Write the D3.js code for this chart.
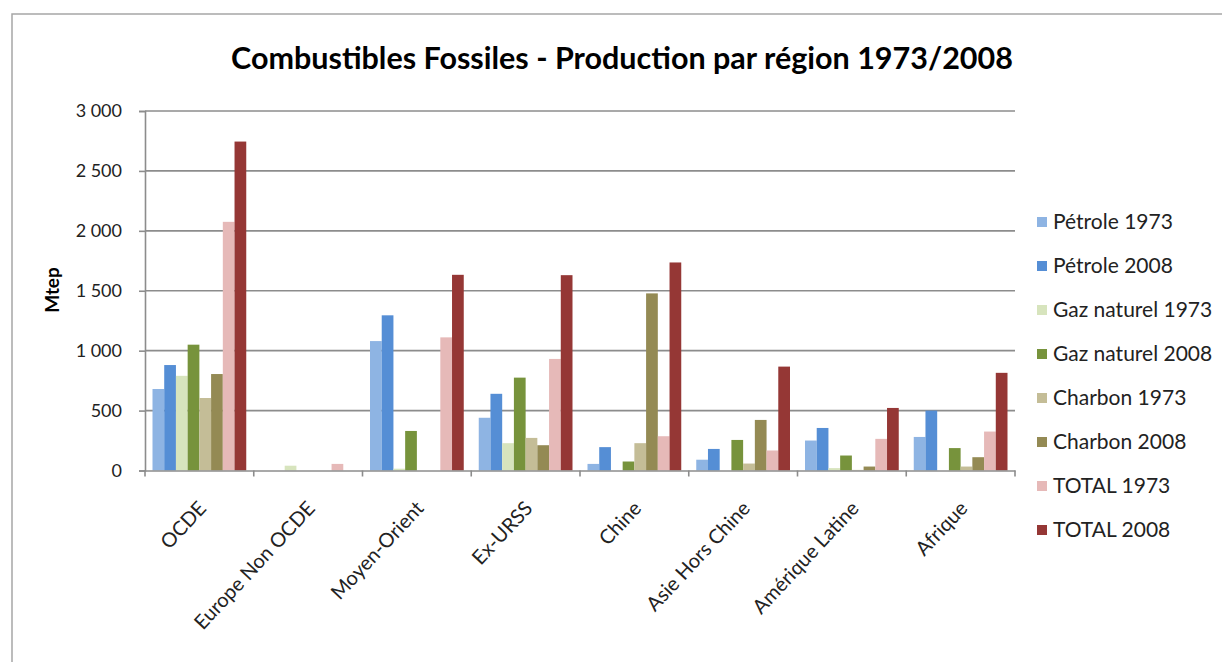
<!DOCTYPE html>
<html><head><meta charset="utf-8">
<script src="https://cdn.jsdelivr.net/npm/d3@7"></script>
<style>body{margin:0;background:#fff}svg{display:block}</style>
</head><body>
<script>
const categories = ["OCDE","Europe Non OCDE","Moyen-Orient","Ex-URSS","Chine","Asie Hors Chine","Amérique Latine","Afrique"];
const seriesNames = ["Pétrole 1973","Pétrole 2008","Gaz naturel 1973","Gaz naturel 2008","Charbon 1973","Charbon 2008","TOTAL 1973","TOTAL 2008"];
const petrole1973 = [680, 0, 1080, 440, 55, 90, 250, 280];
const petrole2008 = [880, 0, 1295, 640, 195, 180, 355, 500];
const gaz1973     = [790, 40, 15, 228, 0, 0, 20, 0];
const gaz2008     = [1050, 0, 330, 775, 75, 255, 125, 187];
const charbon1973 = [605, 0, 0, 272, 228, 58, 5, 33];
const charbon2008 = [805, 0, 0, 211, 1478, 422, 33, 111];
const total1973   = [2075, 55, 1111, 931, 286, 167, 264, 325];
const total2008   = [2745, 0, 1633, 1630, 1736, 867, 522, 815];
const seriesValues = [petrole1973, petrole2008, gaz1973, gaz2008, charbon1973, charbon2008, total1973, total2008];
const colors = ["#8EB4E3","#558ED5","#D7E4BD","#77933C","#C4BD97","#948A54","#E6B9B8","#953735"];
const yTicks = [0,500,1000,1500,2000,2500,3000];

const FONT = "Lato, 'Liberation Sans', sans-serif";
const W = 1222, H = 662;
const svg = d3.select("body").append("svg").attr("width", W).attr("height", H);
svg.append("rect").attr("x",12).attr("y",14).attr("width",W).attr("height",H)
  .attr("fill","#fff").attr("stroke","#a6a6a6").attr("stroke-width",1.5);

const mLeft = 145, mRight = 1015, mTop = 111, mBottom = 470.5;
const x0 = d3.scaleBand().domain(categories).range([mLeft, mRight]).paddingInner(0).paddingOuter(0);
const x1 = d3.scaleBand().domain(seriesNames).range([7.5, x0.bandwidth()-7.5]).padding(0);
const y = d3.scaleLinear().domain([0,3000]).range([mBottom, mTop]);

// gridlines
svg.append("g").selectAll("line").data(yTicks.slice(1)).join("line")
  .attr("x1", mLeft).attr("x2", mRight).attr("y1", d=>y(d)).attr("y2", d=>y(d))
  .attr("stroke","#8c8c8c").attr("stroke-width",1.6);

// bars
const groups = svg.append("g").selectAll("g").data(categories).join("g")
  .attr("transform", c => `translate(${x0(c)},0)`);
groups.selectAll("rect").data((c,i) => seriesNames.map((s,j)=>({s, v: seriesValues[j][i], col: colors[j]})))
  .join("rect")
  .attr("x", d => x1(d.s)).attr("width", x1.bandwidth())
  .attr("y", d => y(d.v)).attr("height", d => mBottom - y(d.v))
  .attr("fill", d => d.col);

// y axis
const yAxis = svg.append("g").attr("transform",`translate(${mLeft},0)`)
  .call(d3.axisLeft(y).tickValues(yTicks).tickSize(6).tickPadding(17).tickFormat(v => v>=1000 ? String(v).slice(0,-3)+" "+String(v).slice(-3) : String(v)));
yAxis.select(".domain").attr("stroke","#8c8c8c").attr("stroke-width",1.6);
yAxis.selectAll(".tick line").attr("stroke","#8c8c8c").attr("stroke-width",1.6);
yAxis.selectAll("text").attr("font-family",FONT).attr("font-size",18).attr("fill","#222");

// x axis
const xAxis = svg.append("g").attr("transform",`translate(0,${mBottom})`)
  .call(d3.axisBottom(x0).tickSize(0).tickFormat(""));
xAxis.select(".domain").attr("stroke","#8c8c8c").attr("stroke-width",1.6);
svg.append("g").selectAll("line").data(d3.range(categories.length+1)).join("line")
  .attr("x1", i => mLeft + i*x0.bandwidth()).attr("x2", i => mLeft + i*x0.bandwidth())
  .attr("y1", mBottom).attr("y2", mBottom+6).attr("stroke","#8c8c8c").attr("stroke-width",1.6);

svg.append("g").selectAll("text").data(categories).join("text")
  .attr("transform", c => `translate(${x0(c)+x0.bandwidth()/2+3},${mBottom+34}) rotate(-47)`)
  .attr("text-anchor","end").attr("dy","0.35em")
  .attr("font-family",FONT)
  .attr("font-size",20).attr("fill","#222").text(c=>c);

// y label
svg.append("text").attr("transform","translate(59,290) rotate(-90)")
  .attr("text-anchor","middle").attr("font-family",FONT)
  .attr("font-weight","bold").attr("font-size",19).attr("fill","#000").text("Mtep");

// title
svg.append("text").attr("x",622).attr("y",69).attr("text-anchor","middle")
  .attr("font-family",FONT).attr("font-weight","bold")
  .attr("font-size",30.5).attr("fill","#000").text("Combustibles  Fossiles - Production  par  région  1973/2008");

// legend
const leg = svg.append("g").selectAll("g").data(seriesNames).join("g")
  .attr("transform",(d,i)=>`translate(1037,${222 + i*44})`);
leg.append("rect").attr("x",0).attr("y",-5).attr("width",10).attr("height",10).attr("fill",(d,i)=>colors[i]);
leg.append("text").attr("x",16).attr("dy","0.35em")
  .attr("font-family",FONT).attr("font-size",21).attr("fill","#222").text(d=>d);
</script>
</body></html>
